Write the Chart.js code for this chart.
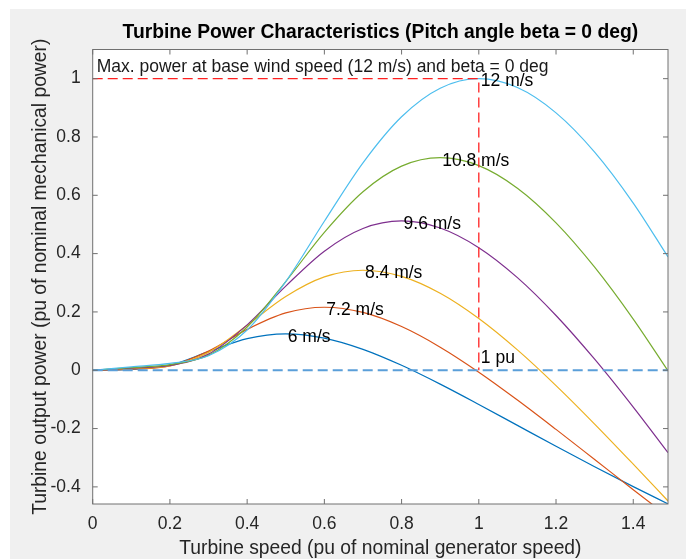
<!DOCTYPE html>
<html>
<head>
<meta charset="utf-8">
<script src="https://cdn.jsdelivr.net/npm/chart.js@4.4.1/dist/chart.umd.min.js"></script>
<style>
  html, body { margin: 0; padding: 0; background: #fff; }
  #wrap { width: 686px; height: 559px; }
</style>
</head>
<body>
<div id="wrap"><canvas id="chart" width="686" height="559"></canvas></div>
<script>
// turbine speed (pu) samples
const speedPu = [0, 0.1, 0.2, 0.3, 0.4, 0.5, 0.6, 0.7, 0.8, 0.9, 1.0, 1.1, 1.2, 1.3, 1.4, 1.49];

// output power (pu) for each wind speed
const wind6 = [0, 0.0029, 0.0173, 0.0639, 0.1087, 0.125, 0.1103, 0.0717, 0.0169, -0.0477, -0.1174, -0.1891, -0.2608, -0.3311, -0.3992, -0.4583];
const wind7p2 = [0, 0.0041, 0.0152, 0.0657, 0.1401, 0.1965, 0.216, 0.1982, 0.1498, 0.0792, -0.0066, -0.102, -0.2028, -0.306, -0.4095, -0.5016];
const wind8p4 = [0, 0.0056, 0.0149, 0.0612, 0.1546, 0.253, 0.3202, 0.343, 0.322, 0.2641, 0.1774, 0.0698, -0.0526, -0.1845, -0.3221, -0.4483];
const wind9p6 = [0, 0.0074, 0.0164, 0.0554, 0.1557, 0.2885, 0.4083, 0.4861, 0.512, 0.4878, 0.4203, 0.3176, 0.1878, 0.0378, -0.1266, -0.2829];
const wind10p8 = [0, 0.0093, 0.0194, 0.0512, 0.1484, 0.3042, 0.4727, 0.612, 0.6999, 0.729, 0.7017, 0.6244, 0.5056, 0.3536, 0.1756, -0.0019];
const wind12 = [0, 0.0115, 0.0233, 0.0498, 0.1379, 0.3039, 0.511, 0.7115, 0.8695, 0.9673, 1.0, 0.9695, 0.8827, 0.7481, 0.5733, 0.3886];

// reference lines
const maxPowerX = [0, 1, 1];
const maxPowerY = [1, 1, 0];
const zeroLineX = [0, 1.49];
const zeroLineY = [0, 0];

// curve labels (text, x, y)
const curveLabels = ['6 m/s', '7.2 m/s', '8.4 m/s', '9.6 m/s', '10.8 m/s', '12 m/s', '1 pu'];
const curveLabelX = [0.5, 0.6, 0.7, 0.8, 0.9, 1.0, 1.0];
const curveLabelY = [0.125, 0.216, 0.343, 0.512, 0.729, 1.0, 0.05];
const noteText = 'Max. power at base wind speed (12 m/s) and beta = 0 deg';
const noteX = 0.005;
const noteY = 1.05;

// axes
const xTicks = [0, 0.2, 0.4, 0.6, 0.8, 1.0, 1.2, 1.4];
const yTicks = [-0.4, -0.2, 0, 0.2, 0.4, 0.6, 0.8, 1.0];
const xMin = 0, xMax = 1.49;
const yMin = -0.4587, yMax = 1.1;

const FONT = "'Liberation Sans', Arial, Helvetica, sans-serif";
const colors = ['#0072BD', '#D95319', '#EDB120', '#7E2F8E', '#77AC30', '#4DBEEE'];

function pts(xs, ys) {
  return xs.map((x, i) => ({ x: x, y: ys[i] }));
}

const seriesList = [wind6, wind7p2, wind8p4, wind9p6, wind10p8, wind12];
const curveSets = seriesList.map((s, i) => ({
  data: pts(speedPu, s),
  borderColor: colors[i],
  borderWidth: 1.2,
  pointRadius: 0,
  cubicInterpolationMode: 'monotone',
  order: 6 - i
}));

const datasets = [
  {
    data: pts(maxPowerX, maxPowerY),
    borderColor: '#ff2020',
    borderWidth: 1.3,
    borderDash: [10, 5],
    pointRadius: 0,
    tension: 0,
    order: 0
  },
  {
    data: pts(zeroLineX, zeroLineY),
    borderColor: '#5b9fd9',
    borderWidth: 2,
    borderDash: [10, 5],
    pointRadius: 0,
    tension: 0,
    order: 0
  }
].concat(curveSets);

// background, box, inward ticks, texts
const framePlugin = {
  id: 'frame',
  beforeDraw(chart) {
    const ctx = chart.ctx;
    const a = chart.chartArea;
    ctx.save();
    ctx.fillStyle = '#ffffff';
    ctx.fillRect(0, 0, chart.width, chart.height);
    ctx.fillStyle = '#f0f0f0';
    ctx.fillRect(10, 9, chart.width - 10, chart.height - 9);
    ctx.fillStyle = '#ffffff';
    ctx.fillRect(a.left, a.top, a.right - a.left, a.bottom - a.top);
    ctx.restore();
  },
  afterDatasetsDraw(chart) {
    const ctx = chart.ctx;
    const xs = chart.scales.x, ys = chart.scales.y;
    ctx.save();
    ctx.fillStyle = '#000';
    ctx.font = '17.5px ' + FONT;
    ctx.textAlign = 'left';
    ctx.textBaseline = 'middle';
    curveLabels.forEach((t, i) => {
      ctx.fillText(t, xs.getPixelForValue(curveLabelX[i]) + 2, ys.getPixelForValue(curveLabelY[i]) + 3);
    });
    ctx.fillStyle = '#1a1a1a';
    ctx.fillText(noteText, xs.getPixelForValue(noteX) + 2, ys.getPixelForValue(noteY) + 3);
    ctx.restore();
  },
  afterDraw(chart) {
    const ctx = chart.ctx;
    const a = chart.chartArea;
    const xs = chart.scales.x, ys = chart.scales.y;
    ctx.save();
    ctx.strokeStyle = '#707070';
    ctx.lineWidth = 1;
    ctx.strokeRect(a.left, a.top, a.right - a.left, a.bottom - a.top);
    ctx.beginPath();
    xTicks.forEach(v => {
      const px = xs.getPixelForValue(v);
      ctx.moveTo(px, a.bottom); ctx.lineTo(px, a.bottom - 5);
      ctx.moveTo(px, a.top); ctx.lineTo(px, a.top + 5);
    });
    yTicks.forEach(v => {
      const py = ys.getPixelForValue(v);
      ctx.moveTo(a.left, py); ctx.lineTo(a.left + 5, py);
      ctx.moveTo(a.right, py); ctx.lineTo(a.right - 5, py);
    });
    ctx.stroke();

    const cx = (a.left + a.right) / 2;
    ctx.fillStyle = '#000';
    ctx.textAlign = 'center';
    ctx.textBaseline = 'middle';
    ctx.font = 'bold 19.3px ' + FONT;
    ctx.fillText('Turbine Power Characteristics (Pitch angle beta = 0 deg)', cx, 33);

    ctx.fillStyle = '#262626';
    ctx.font = '19.3px ' + FONT;
    ctx.fillText('Turbine speed (pu of nominal generator speed)', cx, 549);
    ctx.translate(41, (a.top + a.bottom) / 2);
    ctx.rotate(-Math.PI / 2);
    ctx.fillText('Turbine output power (pu of nominal mechanical power)', 0, 0);
    ctx.restore();
  }
};

Chart.defaults.font.family = FONT;
Chart.defaults.font.size = 17.5;
Chart.defaults.color = '#262626';

new Chart(document.getElementById('chart').getContext('2d'), {
  type: 'line',
  data: { datasets: datasets },
  options: {
    responsive: false,
    animation: false,
    devicePixelRatio: 1,
    layout: { padding: { top: 49.5, right: 18, left: 0, bottom: 0 } },
    plugins: {
      legend: { display: false },
      tooltip: { enabled: false },
      title: { display: false }
    },
    scales: {
      x: {
        type: 'linear',
        min: xMin,
        max: xMax,
        grid: { display: false, drawTicks: false },
        border: { display: false },
        afterFit: s => { s.height = 55; },
        afterBuildTicks: s => { s.ticks = xTicks.map(v => ({ value: v })); },
        ticks: {
          padding: 10,
          maxRotation: 0,
          autoSkip: false,
          callback: v => String(+v.toFixed(2))
        }
      },
      y: {
        type: 'linear',
        min: yMin,
        max: yMax,
        grid: { display: false, drawTicks: false },
        border: { display: false },
        afterFit: s => { s.width = 92.7; },
        afterBuildTicks: s => { s.ticks = yTicks.map(v => ({ value: v })); },
        ticks: {
          padding: 12,
          autoSkip: false,
          callback: v => String(+v.toFixed(2))
        }
      }
    }
  },
  plugins: [framePlugin]
});
</script>
</body>
</html>
